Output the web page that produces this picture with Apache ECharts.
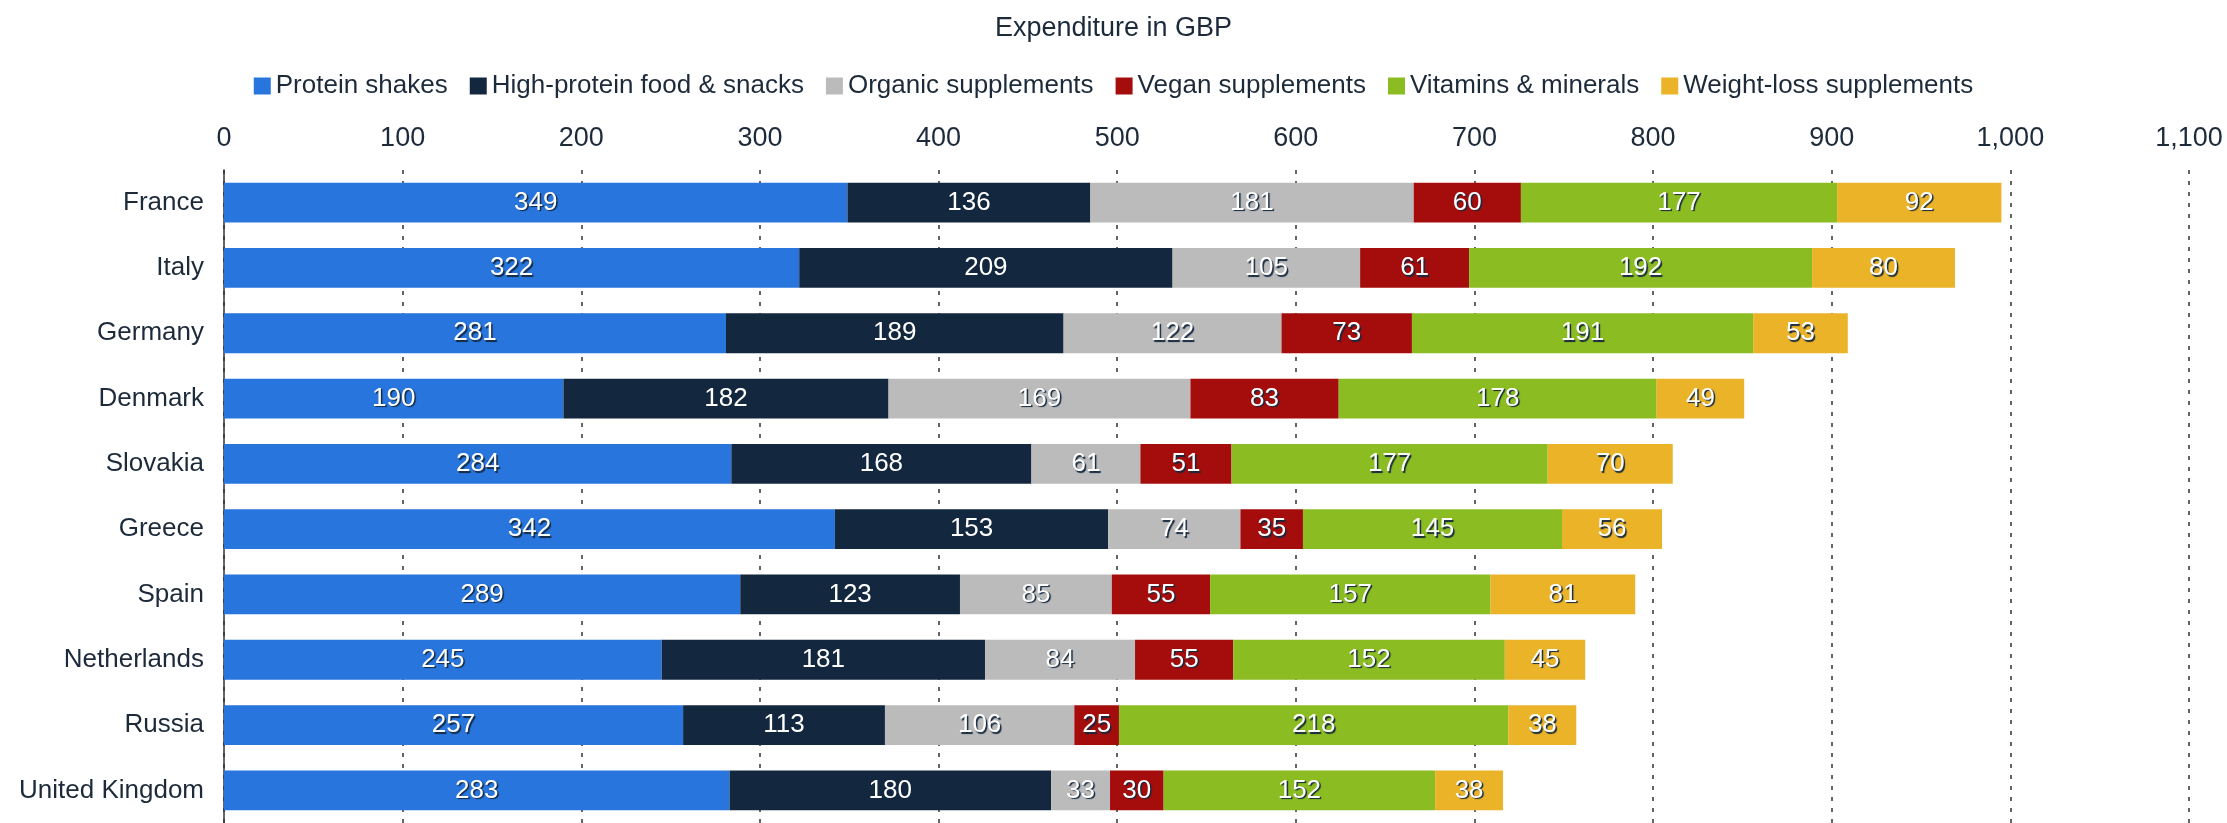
<!DOCTYPE html>
<html lang="en">
<head>
    <meta charset="UTF-8"/>
    <title>Expenditure in GBP</title>
    <style>
        html, body { margin: 0; padding: 0; background: #fff; }
        #chart { width: 2227px; height: 823px; }
    </style>
</head>
<body>
<div id="chart"></div>
<script src="https://cdn.jsdelivr.net/npm/echarts@6/dist/echarts.min.js"></script>
<script type="text/javascript">
    // countries, top to bottom
    var countries = ['France', 'Italy', 'Germany', 'Denmark', 'Slovakia', 'Greece', 'Spain', 'Netherlands', 'Russia', 'United Kingdom'];

    var proteinShakes = [349, 322, 281, 190, 284, 342, 289, 245, 257, 283];
    var highProtein   = [136, 209, 189, 182, 168, 153, 123, 181, 113, 180];
    var organic       = [181, 105, 122, 169, 61, 74, 85, 84, 106, 33];
    var vegan         = [60, 61, 73, 83, 51, 35, 55, 55, 25, 30];
    var vitamins      = [177, 192, 191, 178, 177, 145, 157, 152, 218, 152];
    var weightLoss    = [92, 80, 53, 49, 70, 56, 81, 45, 38, 38];

    var seriesNames = ['Protein shakes', 'High-protein food & snacks', 'Organic supplements', 'Vegan supplements', 'Vitamins & minerals', 'Weight-loss supplements'];
    var seriesData = [proteinShakes, highProtein, organic, vegan, vitamins, weightLoss];
    var colors = ['#2876dd', '#13283f', '#bbbbbb', '#a50c0c', '#8bbc21', '#ebb428'];

    var textColor = '#1c2a3a';
    var font = 'Liberation Sans, Arial, sans-serif';

    var series = seriesNames.map(function (name, i) {
        return {
            name: name,
            type: 'bar',
            stack: 'total',
            barCategoryGap: '39%',
            data: seriesData[i],
            itemStyle: {color: colors[i]},
            label: {
                show: true,
                position: 'inside',
                color: '#fff',
                fontFamily: font,
                fontSize: 26,
                textShadowColor: '#13283f',
                textShadowBlur: 1,
                textShadowOffsetX: 1.5,
                textShadowOffsetY: 1.5
            },
            emphasis: {disabled: true}
        };
    });

    var myChart = echarts.init(document.getElementById('chart'));
    var option = {
        animation: false,
        color: colors,
        textStyle: {fontFamily: font, color: textColor},
        title: {
            text: 'Expenditure in GBP',
            left: 'center',
            top: 10,
            textStyle: {fontSize: 27, fontWeight: 'normal', color: textColor, fontFamily: font}
        },
        legend: {
            top: 68,
            left: 'center',
            icon: 'rect',
            itemWidth: 17,
            itemHeight: 17,
            itemGap: 22,
            textStyle: {fontSize: 26, color: textColor, fontFamily: font},
            data: seriesNames
        },
        grid: {
            left: 224,
            right: 38,
            top: 170,
            bottom: -5
        },
        xAxis: {
            type: 'value',
            position: 'top',
            min: 0,
            max: 1100,
            interval: 100,
            axisLine: {show: false},
            axisTick: {show: false},
            axisLabel: {
                fontSize: 27,
                color: textColor,
                fontFamily: font,
                margin: 18,
                formatter: function (v) { return v.toLocaleString('en-US'); }
            },
            splitLine: {
                show: true,
                lineStyle: {color: '#333', width: 1.5, type: [4, 7]}
            }
        },
        yAxis: {
            type: 'category',
            inverse: true,
            data: countries,
            axisTick: {show: false},
            axisLine: {show: true, lineStyle: {color: '#333', width: 1.5}},
            axisLabel: {fontSize: 26, color: textColor, fontFamily: font, margin: 20}
        },
        series: series
    };
    myChart.setOption(option);
</script>
</body>
</html>
